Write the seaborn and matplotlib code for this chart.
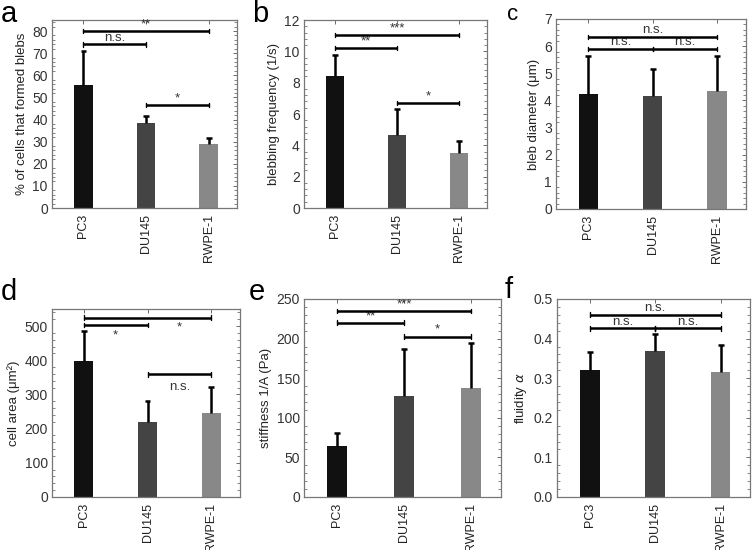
import matplotlib
matplotlib.use("Agg")
import matplotlib.pyplot as plt
import seaborn as sns
import pandas as pd
import numpy as np
from matplotlib.ticker import AutoMinorLocator, MultipleLocator

sns.set_theme(style="white")
plt.rcParams['font.family'] = ['Liberation Sans', 'DejaVu Sans']

cells = ["PC3", "DU145", "RWPE-1"]
bar_colors = ["#111111", "#444444", "#888888"]

# panel data: means and upper error (SD)
a_mean = [55.5, 38.5, 29.0]
a_err = [15.5, 3.0, 2.5]
b_mean = [8.4, 4.65, 3.5]
b_err = [1.35, 1.65, 0.75]
c_mean = [4.25, 4.15, 4.33]
c_err = [1.4, 1.0, 1.29]
d_mean = [397, 219, 246]
d_err = [88, 63, 76]
e_mean = [64, 127, 137]
e_err = [17, 60, 57]
f_mean = [0.32, 0.368, 0.315]
f_err = [0.046, 0.043, 0.07]

# brackets: (i, j, y, label, label_x, label_y)  label_y None -> just above line
a_br = [(0, 2, 80, "**", None, None), (0, 1, 74, "n.s.", None, None), (1, 2, 46.5, "*", None, None)]
b_br = [(0, 2, 11.05, "***", None, None), (0, 1, 10.2, "**", None, None), (1, 2, 6.7, "*", None, None)]
c_br = [(0, 2, 6.33, "n.s.", None, None), (0, 1, 5.9, "n.s.", None, None), (1, 2, 5.9, "n.s.", None, None)]
d_br = [(0, 2, 525, "*", 1.5, 497), (0, 1, 503, "*", 0.5, 472), (1, 2, 359, "n.s.", 1.5, 322)]
e_br = [(0, 2, 235, "***", None, None), (0, 1, 220, "**", None, None), (1, 2, 202.5, "*", None, None)]
f_br = [(0, 2, 0.46, "n.s.", None, None), (0, 1, 0.426, "n.s.", None, None), (1, 2, 0.426, "n.s.", None, None)]

panels = [
    ("a", a_mean, a_err, a_br, "% of cells that formed blebs", 85, 10, (52, 20, 237, 208), (1, 22, 21)),
    ("b", b_mean, b_err, b_br, "blebbing frequency (1/s)", 12, 2, (304, 20, 487, 208), (252, 22, 21)),
    ("c", c_mean, c_err, c_br, "bleb diameter (μm)", 7, 1, (556, 19, 746, 209), (507, 20, 16)),
    ("d", d_mean, d_err, d_br, "cell area (μm²)", 550, 100, (52, 309, 240, 497), (1, 300, 21)),
    ("e", e_mean, e_err, e_br, "stiffness 1/A (Pa)", 250, 50, (304, 299, 501, 497), (249, 300, 21)),
    ("f", f_mean, f_err, f_br, "fluidity $\\alpha$", 0.5, 0.1, (557, 299, 750, 497), (505, 298, 21)),
]

W, H = 754, 550
fig = plt.figure(figsize=(W / 100, H / 100), dpi=100)

for letter, mean, err, brs, ylab, ymax, ystep, box, lpos in panels:
    l, t, r, b = box
    ax = fig.add_axes([l / W, 1 - b / H, (r - l) / W, (b - t) / H])
    df = pd.DataFrame({"cell": cells, "value": mean})
    sns.barplot(data=df, x="cell", y="value", hue="cell", palette=bar_colors,
                order=cells, width=0.3, legend=False, ax=ax, saturation=1, errorbar=None)
    for p in ax.patches:
        p.set_edgecolor("none")
    xs = np.arange(len(cells))
    tops = np.array(mean) + np.array(err)
    ax.vlines(xs, mean, tops, color="black", lw=1.8, zorder=3)
    ax.hlines(tops, xs - 0.045, xs + 0.045, color="black", lw=1.8, zorder=3)
    cap_h = ymax * 0.012
    for i, j, y, lab, lx, ly in brs:
        ax.plot([i, j], [y, y], color="black", lw=1.8, zorder=4, solid_capstyle="butt")
        for xx in (i, j):
            ax.plot([xx, xx], [y - cap_h, y + cap_h], color="black", lw=1.0, zorder=4)
        if lx is None:
            ax.text((i + j) / 2, y + ymax * 0.004, lab, ha="center", va="bottom",
                    fontsize=9.5, color="#333333")
        else:
            ax.text(lx, ly, lab, ha="center", va="center", fontsize=9.5, color="#333333")
    ax.set_xlim(-0.5, 2.45)
    ax.set_ylim(0, ymax)
    ax.yaxis.set_major_locator(MultipleLocator(ystep))
    ax.yaxis.set_minor_locator(AutoMinorLocator(5))
    ax.set_xlabel("")
    ax.set_ylabel(ylab, fontsize=9.5, color="#222222", labelpad=3)
    ax.tick_params(axis="x", rotation=90, labelsize=9, direction="in", top=True,
                   length=3, width=0.6, pad=4, colors="#555555", labelcolor="#222222")
    ax.tick_params(axis="y", which="major", labelsize=10, direction="in", right=True,
                   length=3, width=0.6, pad=3, colors="#555555", labelcolor="#333333")
    ax.tick_params(axis="y", which="minor", direction="in", left=True, right=True,
                   length=2, width=0.5, colors="#555555")
    for s in ax.spines.values():
        s.set_color("#777777")
        s.set_linewidth(0.9)
        s.set_visible(True)
    fig.text(lpos[0] / W, 1 - lpos[1] / H, letter, fontsize=lpos[2], ha="left",
             va="baseline", color="black")

fig.savefig("out.png", dpi=100)
